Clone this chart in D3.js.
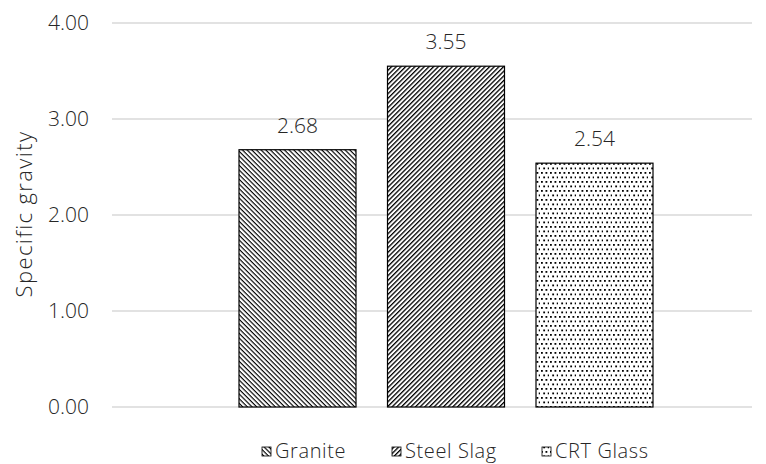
<!DOCTYPE html>
<html><head><meta charset="utf-8">
<script src="https://cdn.jsdelivr.net/npm/d3@7"></script>
<style>body{margin:0;background:#fff}svg text{font-family:"Open Sans","Segoe UI",sans-serif;font-weight:300;fill:#262626}</style>
</head><body><svg id="c" width="766" height="464"></svg>
<script>
const categories = ["Granite", "Steel Slag", "CRT Glass"];
const values = [2.68, 3.55, 2.54];
const yTicks = [0, 1, 2, 3, 4];
const patterns = ["granite", "slag", "crt"];

const svg = d3.select("#c");
const defs = svg.append("defs");
const p1 = defs.append("pattern").attr("id","granite").attr("patternUnits","userSpaceOnUse")
  .attr("width",3.3).attr("height",3.3).attr("patternTransform","rotate(45)");
p1.append("rect").attr("width",3.3).attr("height",3.3).attr("fill","#fff");
p1.append("rect").attr("width",3.3).attr("height",1.15).attr("fill","#000");
const p2 = defs.append("pattern").attr("id","slag").attr("patternUnits","userSpaceOnUse")
  .attr("width",3.3).attr("height",3.3).attr("patternTransform","rotate(-45)");
p2.append("rect").attr("width",3.3).attr("height",3.3).attr("fill","#fff");
p2.append("rect").attr("width",3.3).attr("height",1.3).attr("fill","#000");
const p3 = defs.append("pattern").attr("id","crt").attr("patternUnits","userSpaceOnUse")
  .attr("width",9).attr("height",9);
p3.append("rect").attr("width",9).attr("height",9).attr("fill","#fff");
[[1,1],[5.5,1],[3.25,5.5],[7.75,5.5]].forEach(([x,y])=>p3.append("rect").attr("x",x).attr("y",y).attr("width",1.8).attr("height",1.8).attr("fill","#000"));

const y = d3.scaleLinear().domain([0,4]).range([407,23]);
const x = d3.scaleBand().domain(categories).range([223.25,668.75]).paddingInner(31.5/148.5).paddingOuter(31.5/148.5/2);

svg.append("g").selectAll("line").data(yTicks).join("line")
  .attr("x1",112).attr("x2",752).attr("y1",d=>y(d)).attr("y2",d=>y(d))
  .attr("stroke","#d9d9d9").attr("stroke-width",1.3);
svg.append("g").selectAll("text").data(yTicks).join("text")
  .attr("x",89).attr("y",d=>y(d)).attr("dy","0.35em").attr("text-anchor","end")
  .attr("font-size",21).text(d=>d3.format(".2f")(d));

svg.append("text").attr("transform","translate(32,214) rotate(-90)").attr("text-anchor","middle")
  .attr("font-size",22).attr("letter-spacing",1.4).text("Specific gravity");

svg.append("g").selectAll("rect").data(values).join("rect")
  .attr("x",(d,i)=>x(categories[i])).attr("width",x.bandwidth())
  .attr("y",d=>y(d)).attr("height",d=>y(0)-y(d))
  .attr("fill",(d,i)=>`url(#${patterns[i]})`).attr("stroke","#000").attr("stroke-width",1.2);

svg.append("g").selectAll("text").data(values).join("text")
  .attr("x",(d,i)=>x(categories[i])+x.bandwidth()/2).attr("y",d=>y(d)-17)
  .attr("text-anchor","middle").attr("font-size",21).text(d=>d3.format(".2f")(d));

const legX = [262, 392, 542];
const lg = svg.append("g");
categories.forEach((c,i)=>{
  lg.append("rect").attr("x",legX[i]).attr("y",447).attr("width",9).attr("height",9)
    .attr("fill",`url(#${patterns[i]})`).attr("stroke","#000").attr("stroke-width",0.8);
  lg.append("text").attr("x",legX[i]+13).attr("y",451).attr("dy","0.35em").attr("font-size",20)
    .attr("letter-spacing",0.6).text(c);
});
</script></body></html>
